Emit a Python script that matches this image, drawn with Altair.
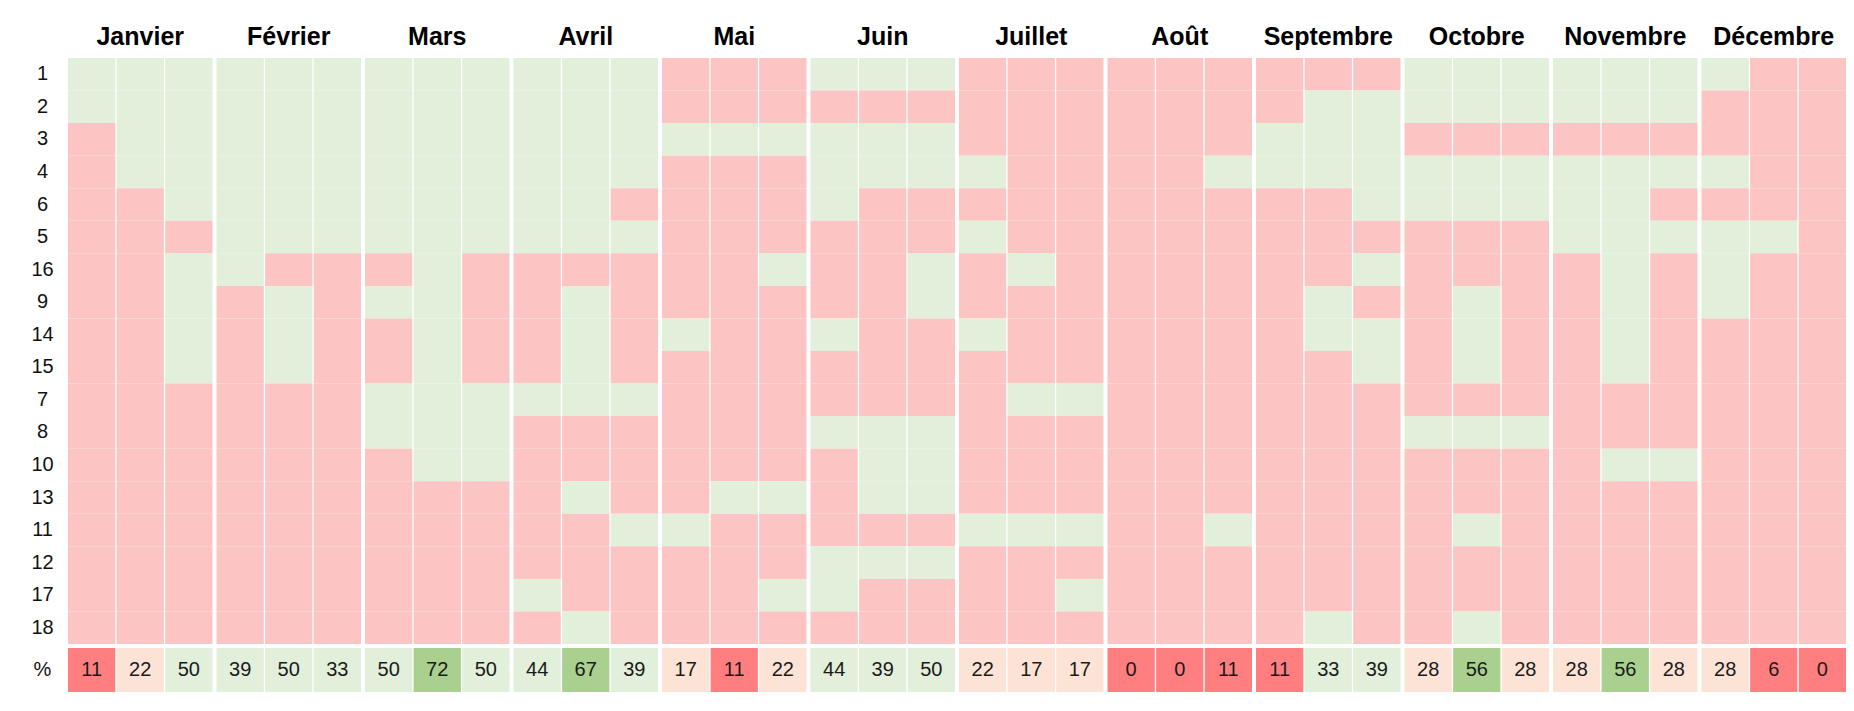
import altair as alt
import pandas as pd

months = ["Janvier", "Février", "Mars", "Avril", "Mai", "Juin", "Juillet",
          "Août", "Septembre", "Octobre", "Novembre", "Décembre"]
rows = ["1", "2", "3", "4", "6", "5", "16", "9", "14", "15", "7", "8",
        "10", "13", "11", "12", "17", "18"]

# G = vert (favorable), R = rouge (défavorable); one string per sub-column, top to bottom
janvier = ["GGRRRRRRRRRRRRRRRR", "GGGGRRRRRRRRRRRRRR", "GGGGGRGGGGRRRRRRRR"]
fevrier = ["GGGGGGGRRRRRRRRRRR", "GGGGGGRGGGRRRRRRRR", "GGGGGGRRRRRRRRRRRR"]
mars = ["GGGGGGRGRRGGRRRRRR", "GGGGGGGGGGGGGRRRRR", "GGGGGGRRRRGGGRRRRR"]
avril = ["GGGGGGRRRRGRRRRRGR", "GGGGGGRGGGGRRGRRRG", "GGGGRGRRRRGRRRGRRR"]
mai = ["RRGRRRRRGRRRRRGRRR", "RRGRRRRRRRRRRGRRRR", "RRGRRRGRRRRRRGRRGR"]
juin = ["GRGGGRRRGRRGRRRGGR", "GRGGRRRRRRRGGGRGRR", "GRGGRRGGRRRGGGRGRR"]
juillet = ["RRRGRGRRGRRRRRGRRR", "RRRRRRGRRRGRRRGRRR", "RRRRRRRRRRGRRRGRGR"]
aout = ["RRRRRRRRRRRRRRRRRR", "RRRRRRRRRRRRRRRRRR", "RRRGRRRRRRRRRRGRRR"]
septembre = ["RRGGRRRRRRRRRRRRRR", "RGGGRRRGGRRRRRRRRG", "RGGGGRGRGGRRRRRRRR"]
octobre = ["GGRGGRRRRRRGRRRRRR", "GGRGGRRGGGRGRRGRRG", "GGRGGRRRRRRGRRRRRR"]
novembre = ["GGRGGGRRRRRRRRRRRR", "GGRGGGGGGGRRGRRRRR", "GGRGRGRRRRRRGRRRRR"]
decembre = ["GRRGRGGGRRRRRRRRRR", "RRRRRGRRRRRRRRRRRR", "RRRRRRRRRRRRRRRRRR"]

pourcentages = [11, 22, 50, 39, 50, 33, 50, 72, 50, 44, 67, 39,
                17, 11, 22, 44, 39, 50, 22, 17, 17, 0, 0, 11,
                11, 33, 39, 28, 56, 28, 28, 56, 28, 28, 6, 0]

colonnes = [janvier, fevrier, mars, avril, mai, juin, juillet, aout,
            septembre, octobre, novembre, decembre]

recs = []
prec = []
k = 0
for m, triple in zip(months, colonnes):
    for s, col in enumerate(triple):
        for r, ch in zip(rows, col):
            recs.append({"mois": m, "sous": s, "ligne": r, "etat": ch})
        prec.append({"mois": m, "sous": s, "pct": pourcentages[k], "lbl": "%"})
        k += 1
df = pd.DataFrame(recs)
pdf = pd.DataFrame(prec)

PINK = "#FDC4C4"
GREEN = "#E2EFDA"
RED = "#FF7F80"
PEACH = "#FCE3D6"
DGREEN = "#A9D08E"
FONT = "Liberation Sans"

W = 1778
H = 586

xscale = alt.Scale(paddingInner=0.027, paddingOuter=0)
xoff = alt.XOffset("sous:O", scale=alt.Scale(paddingInner=0.027, paddingOuter=0))

yaxis = alt.Axis(title=None, labelFontSize=20, labelFont=FONT, labelColor="#111111",
                 labelAlign="center", labelPadding=26, ticks=False, tickSize=0,
                 domain=False, grid=False, minExtent=40, maxExtent=40)

grid = alt.Chart(df).mark_rect().encode(
    x=alt.X("mois:N", sort=months, scale=xscale,
            axis=alt.Axis(orient="top", title=None, labelAngle=0, labelFontSize=25,
                          labelFontWeight="bold", labelFont=FONT, labelColor="#000000",
                          ticks=False, tickSize=0, domain=False, grid=False,
                          labelPadding=14, labelBaseline="alphabetic",
                          minExtent=44, maxExtent=44)),
    xOffset=xoff,
    y=alt.Y("ligne:N", sort=rows, scale=alt.Scale(paddingInner=0, paddingOuter=0), axis=yaxis),
    color=alt.Color("etat:N", scale=alt.Scale(domain=["G", "R"], range=[GREEN, PINK]), legend=None),
).properties(width=W, height=H)

base = alt.Chart(pdf).encode(
    x=alt.X("mois:N", sort=months, scale=xscale, axis=None),
    xOffset=xoff,
    y=alt.Y("lbl:N", scale=alt.Scale(paddingInner=0, paddingOuter=0), axis=yaxis),
)
cells = base.mark_rect().encode(
    color=alt.Color("pct:Q", scale=alt.Scale(type="threshold", domain=[12, 30, 55],
                                             range=[RED, PEACH, GREEN, DGREEN]), legend=None)
)
texts = base.mark_text(fontSize=20, font=FONT, color="#1a1a1a").encode(text="pct:Q")
pct_chart = (cells + texts).properties(width=W, height=44)

chart = alt.vconcat(grid, pct_chart, spacing=4).properties(
    padding={"left": 20, "top": 6, "right": 0, "bottom": 4}
).configure_view(stroke=None)

chart.save("out.html", embed_options={"renderer": "svg", "actions": False})
